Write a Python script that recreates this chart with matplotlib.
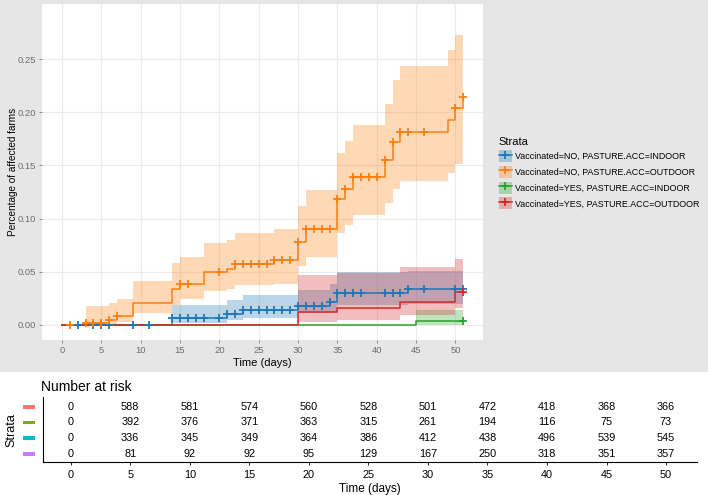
import numpy as np
import matplotlib
matplotlib.use("Agg")
import matplotlib.pyplot as plt
from matplotlib.patches import Patch, Rectangle
from matplotlib.lines import Line2D

plt.rcParams['font.family'] = ['Liberation Sans', 'DejaVu Sans']

# strata labels and colours
strata = ['Vaccinated=NO, PASTURE.ACC=INDOOR', 'Vaccinated=NO, PASTURE.ACC=OUTDOOR',
          'Vaccinated=YES, PASTURE.ACC=INDOOR', 'Vaccinated=YES, PASTURE.ACC=OUTDOOR']
colors = ['#1F77B4', '#FF7F0E', '#2CA02C', '#D62728']
t_end = 51

# NO / INDOOR
no_in_t = [0, 14, 21, 23, 30, 34, 35, 44]
no_in_est = [0, 0.0063, 0.010, 0.014, 0.018, 0.022, 0.030, 0.0335]
no_in_lo = [0, 0.002, 0.0047, 0.0063, 0.011, 0.0125, 0.0188, 0.020]
no_in_hi = [0, 0.0188, 0.0235, 0.028, 0.033, 0.039, 0.050, 0.051]
no_in_cens = [2, 4, 5, 6, 9, 11, 14, 15, 16, 17, 18, 20, 21, 22, 23, 24, 25, 26, 27, 28,
              29, 30, 31, 32, 33, 34, 35, 36, 37, 38, 41, 42, 43, 44, 46, 50, 51]

# NO / OUTDOOR
no_out_t = [0, 3, 6, 7, 9, 14, 15, 18, 21, 22, 27, 30, 31, 35, 36, 37, 41, 42, 43, 49, 50, 51]
no_out_est = [0, 0.002, 0.005, 0.008, 0.021, 0.034, 0.039, 0.050, 0.053, 0.057, 0.061, 0.078,
              0.090, 0.118, 0.128, 0.139, 0.155, 0.172, 0.181, 0.193, 0.204, 0.2146]
no_out_lo = [0, 0.0003, 0.001, 0.003, 0.011, 0.019, 0.024, 0.032, 0.034, 0.038, 0.039, 0.055,
             0.064, 0.086, 0.094, 0.103, 0.115, 0.128, 0.135, 0.1425, 0.151, 0.151]
no_out_hi = [0, 0.018, 0.0204, 0.024, 0.041, 0.058, 0.0636, 0.077, 0.080, 0.086, 0.090, 0.112,
             0.127, 0.162, 0.173, 0.188, 0.208, 0.230, 0.243, 0.258, 0.2726, 0.2726]
no_out_cens = [1, 3, 4, 5, 6, 7, 15, 16, 20, 22, 23, 24, 25, 26, 27, 28, 29, 30, 31, 32, 33,
               34, 35, 36, 37, 38, 39, 40, 41, 42, 43, 44, 46, 50, 51]

# YES / INDOOR
yes_in_t = [0, 45]
yes_in_est = [0, 0.0038]
yes_in_lo = [0, 0]
yes_in_hi = [0, 0.014]
yes_in_cens = [51]

# YES / OUTDOOR
yes_out_t = [0, 30, 35, 43, 50]
yes_out_est = [0, 0.012, 0.0157, 0.022, 0.0307]
yes_out_lo = [0, 0.003, 0.005, 0.0094, 0.0157]
yes_out_hi = [0, 0.047, 0.049, 0.0545, 0.0617]
yes_out_cens = [51]

curves = [(no_in_t, no_in_est, no_in_lo, no_in_hi, no_in_cens),
          (no_out_t, no_out_est, no_out_lo, no_out_hi, no_out_cens),
          (yes_in_t, yes_in_est, yes_in_lo, yes_in_hi, yes_in_cens),
          (yes_out_t, yes_out_est, yes_out_lo, yes_out_hi, yes_out_cens)]

# number at risk table
risk_times = [0, 5, 10, 15, 20, 25, 30, 35, 40, 45, 50]
risk_cols = ['#F8766D', '#7CAE00', '#00BFC4', '#C77CFF']
risk_1 = [0, 588, 581, 574, 560, 528, 501, 472, 418, 368, 366]
risk_2 = [0, 392, 376, 371, 363, 315, 261, 194, 116, 75, 73]
risk_3 = [0, 336, 345, 349, 364, 386, 412, 438, 496, 539, 545]
risk_4 = [0, 81, 92, 92, 95, 129, 167, 250, 318, 351, 357]

W, H = 708, 495
fig = plt.figure(figsize=(W / 100, H / 100), dpi=100)
fig.patch.set_facecolor('white')
fig.patches.append(Rectangle((0, 1 - 372 / H), 1, 372 / H, transform=fig.transFigure,
                             facecolor='#E6E6E6', edgecolor='none', zorder=-10))

ax = fig.add_axes([42 / W, 1 - 340 / H, (483 - 42) / W, 336 / H])
ax.set_facecolor('white')
for s in ax.spines.values():
    s.set_visible(False)

for (t, est, lo, hi, cens), c in zip(curves, colors):
    tt = np.append(t, t_end)
    ax.fill_between(tt, np.append(lo, lo[-1]), np.append(hi, hi[-1]), step='post',
                    color=c, alpha=0.3, lw=0, zorder=2)
for (t, est, lo, hi, cens), c in zip(curves, colors):
    tt = np.append(t, t_end)
    ee = np.append(est, est[-1])
    ax.step(tt, ee, where='post', color=c, lw=1.1, zorder=3)
    idx = np.searchsorted(t, cens, side='right') - 1
    ax.plot(cens, np.array(est)[idx], ls='none', marker='+', ms=6, mew=1.3, color=c, zorder=4)

ax.set_xlim(-2.54, 53.5)
ax.set_ylim(-0.0141, 0.3017)
ax.set_xticks(range(0, 51, 5))
ax.set_yticks([0, 0.05, 0.10, 0.15, 0.20, 0.25])
ax.set_yticklabels(['0.00', '0.05', '0.10', '0.15', '0.20', '0.25'])
ax.grid(True, color='#EBEBEB', lw=0.8, zorder=0)
ax.set_axisbelow(True)
ax.tick_params(colors='#7F7F7F', labelsize=6.8, length=2.5, width=0.6, labelcolor='#6E6E6E',
               pad=2)
ax.set_xlabel('Time (days)', fontsize=8, labelpad=2)
ax.set_ylabel('Percentage of affected farms', fontsize=7.2)
ax.yaxis.set_label_coords(-24.5 / 441, (340 - 172) / 336)

handles = [(Patch(facecolor=c, alpha=0.3, edgecolor='none'),
            Line2D([], [], color=c, lw=1.1, marker='+', ms=6, mew=1.3)) for c in colors]
leg = fig.legend(handles, strata, title='Strata', loc='upper left',
                 bbox_to_anchor=(495 / W, 1 - 133 / H), frameon=False, fontsize=6.4,
                 title_fontsize=8, handlelength=1.5, handleheight=1.7, handletextpad=0.3,
                 labelspacing=0.42, borderaxespad=0)
leg._legend_box.align = 'left'

# risk table
tab = fig.add_axes([42.7 / W, 1 - 462.3 / H, (697 - 42.7) / W, (462.3 - 396.7) / H])
tab.set_facecolor('white')
tab.spines['top'].set_visible(False)
tab.spines['right'].set_visible(False)
tab.spines['left'].set_linewidth(0.8)
tab.spines['bottom'].set_linewidth(0.8)
tab.set_xlim(-2.35, 52.6)
tab.set_ylim(0.47, 4.63)
for i, row in enumerate([risk_1, risk_2, risk_3, risk_4]):
    y = 4 - i
    for x, v in zip(risk_times, row):
        tab.text(x, y, str(v), ha='center', va='center', fontsize=7.8)
    tab.add_patch(Rectangle((-0.030, y - 0.12), 0.018, 0.24, transform=tab.get_yaxis_transform(),
                            facecolor=risk_cols[i], edgecolor='none', clip_on=False))
tab.set_yticks([])
tab.set_xticks(risk_times)
tab.tick_params(axis='x', labelsize=7.8, length=2, width=0.6)
tab.set_xlabel('Time (days)', fontsize=8.5, labelpad=2)
tab.set_title('Number at risk', fontsize=10, loc='left', x=-0.002, pad=4)
fig.text(11.7 / W, 1 - 430 / H, 'Strata', rotation=90, ha='center', va='center', fontsize=9)

fig.savefig('out.png', dpi=100, facecolor=fig.get_facecolor())
